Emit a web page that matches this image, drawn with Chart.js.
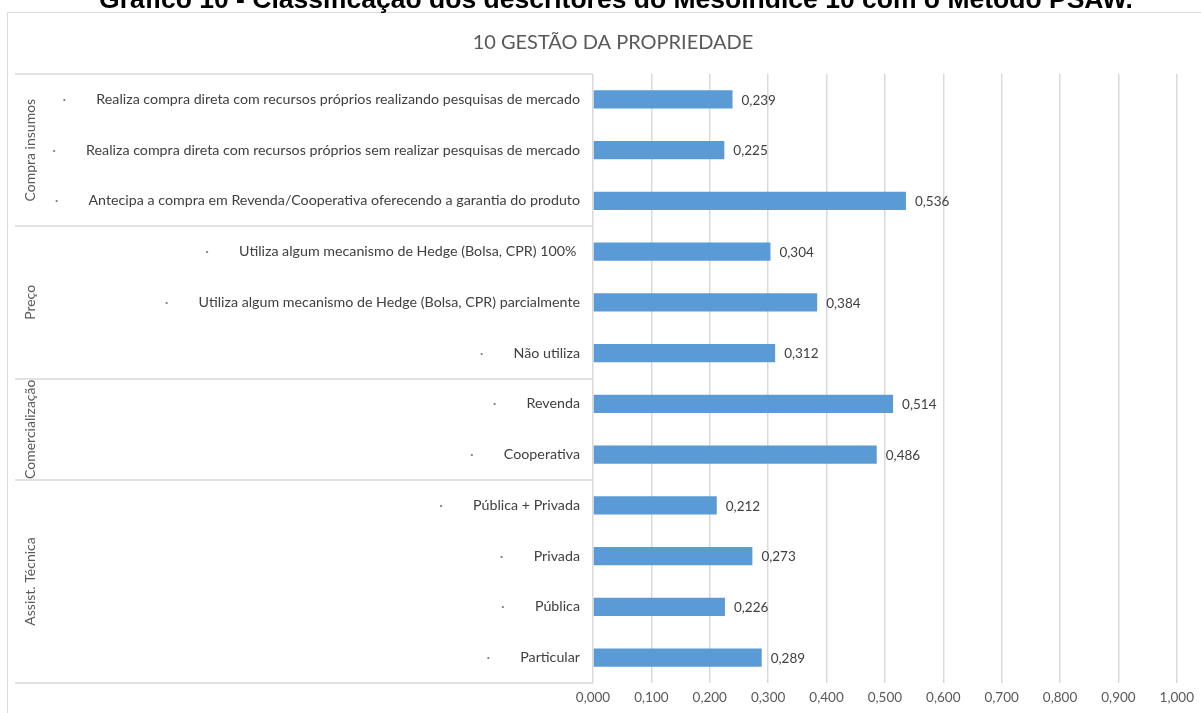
<!DOCTYPE html>
<html>
<head>
<meta charset="utf-8">
<script src="https://cdn.jsdelivr.net/npm/chart.js@4.4.1/dist/chart.umd.min.js"></script>
<style>
  html, body { margin: 0; padding: 0; background: #fff; }
  canvas { display: block; }
</style>
</head>
<body>
<canvas id="chart" width="1201" height="713"></canvas>
<script>
const pageTitle = 'Gráfico 10 - Classificação dos descritores do Mesoíndice 10 com o Método PSAW.';
const chartTitle = '10 GESTÃO DA PROPRIEDADE';

const categories = [
  'Realiza compra direta com recursos próprios realizando pesquisas de mercado',
  'Realiza compra direta com recursos próprios sem realizar pesquisas de mercado',
  'Antecipa a compra em Revenda/Cooperativa oferecendo a garantia do produto',
  'Utiliza algum mecanismo de Hedge (Bolsa, CPR) 100% ',
  'Utiliza algum mecanismo de Hedge (Bolsa, CPR) parcialmente',
  'Não utiliza',
  'Revenda',
  'Cooperativa',
  'Pública + Privada',
  'Privada',
  'Pública',
  'Particular'
];
const values = [0.239, 0.225, 0.536, 0.304, 0.384, 0.312, 0.514, 0.486, 0.212, 0.273, 0.226, 0.289];

// outer groups: name, first row, last row
const groupNames = ['Compra insumos', 'Preço', 'Comercialização', 'Assist. Técnica'];
const groupStart = [0, 3, 6, 8];
const groupEnd = [2, 5, 7, 11];

const FONT = 'Lato, "Open Sans", sans-serif';
const fmt = v => v.toFixed(3).replace('.', ',');

const decorations = {
  id: 'decorations',
  beforeDraw(chart) {
    const ctx = chart.ctx;
    ctx.save();
    ctx.fillStyle = '#fff';
    ctx.fillRect(0, 0, chart.width, chart.height);

    // chart frame
    ctx.strokeStyle = '#d9d9d9';
    ctx.lineWidth = 1;
    ctx.beginPath();
    ctx.moveTo(7.5, chart.height);
    ctx.lineTo(7.5, 12.5);
    ctx.lineTo(chart.width, 12.5);
    ctx.stroke();

    // page heading, cut at the top edge
    ctx.fillStyle = '#000';
    ctx.font = 'bold 26.5px "Liberation Sans", Arial, sans-serif';
    ctx.textAlign = 'center';
    ctx.textBaseline = 'alphabetic';
    ctx.fillText(pageTitle, 616, 8);

    ctx.fillStyle = '#595959';
    ctx.font = '20px ' + FONT;
    ctx.textBaseline = 'middle';
    ctx.fillText(chartTitle, 613, 43);
    ctx.restore();
  },
  afterDraw(chart) {
    const ctx = chart.ctx;
    const area = chart.chartArea;
    const y = chart.scales.y;
    const meta = chart.getDatasetMeta(0);
    const half = (y.getPixelForValue(1) - y.getPixelForValue(0)) / 2;

    ctx.save();
    ctx.textBaseline = 'middle';

    categories.forEach((label, i) => {
      const py = y.getPixelForValue(i);
      ctx.font = '14.25px ' + FONT;
      ctx.fillStyle = '#404040';
      ctx.textAlign = 'right';
      const right = area.left - 13;
      ctx.fillText(label, right, py);
      const w = ctx.measureText(label).width;
      ctx.fillStyle = '#7f7f7f';
      ctx.textAlign = 'center';
      ctx.fillText('·', right - w - 32, py);

      // value next to each bar
      ctx.font = '13.5px ' + FONT;
      ctx.fillStyle = '#404040';
      ctx.textAlign = 'left';
      ctx.fillText(fmt(values[i]), meta.data[i].x + 9, py + 1);
    });

    // group separators and rotated group names
    ctx.strokeStyle = '#d9d9d9';
    ctx.lineWidth = 1.5;
    const lines = [y.getPixelForValue(0) - half];
    groupEnd.forEach(e => lines.push(y.getPixelForValue(e) + half));
    ctx.beginPath();
    lines.forEach(ly => {
      ctx.moveTo(15, Math.round(ly));
      ctx.lineTo(area.left, Math.round(ly));
    });
    ctx.stroke();

    ctx.font = '14px ' + FONT;
    ctx.fillStyle = '#595959';
    ctx.textAlign = 'center';
    groupNames.forEach((name, g) => {
      const top = y.getPixelForValue(groupStart[g]) - half;
      const bottom = y.getPixelForValue(groupEnd[g]) + half;
      ctx.save();
      ctx.translate(30, (top + bottom) / 2);
      ctx.rotate(-Math.PI / 2);
      ctx.fillText(name, 0, 0);
      ctx.restore();
    });
    ctx.restore();
  }
};

new Chart(document.getElementById('chart'), {
  type: 'bar',
  data: {
    labels: categories,
    datasets: [{
      data: values,
      backgroundColor: '#5b9bd5',
      borderColor: '#5b9bd5',
      borderWidth: 0,
      barPercentage: 0.36,
      categoryPercentage: 1
    }]
  },
  options: {
    indexAxis: 'y',
    responsive: false,
    animation: false,
    layout: { padding: { top: 74, right: 20, left: 0, bottom: 0 } },
    plugins: {
      legend: { display: false },
      tooltip: { enabled: false }
    },
    scales: {
      x: {
        min: 0,
        max: 1,
        ticks: {
          stepSize: 0.1,
          color: '#595959',
          font: { family: FONT, size: 13.5 },
          padding: 7,
          callback: v => fmt(v)
        },
        grid: { color: '#d9d9d9', lineWidth: 1.5, drawTicks: false },
        border: { display: false },
        afterFit(scale) { scale.height = 30; }
      },
      y: {
        ticks: { display: false },
        grid: { display: false },
        border: { display: false },
        afterFit(scale) { scale.width = 593; }
      }
    }
  },
  plugins: [decorations]
});
</script>
</body>
</html>
